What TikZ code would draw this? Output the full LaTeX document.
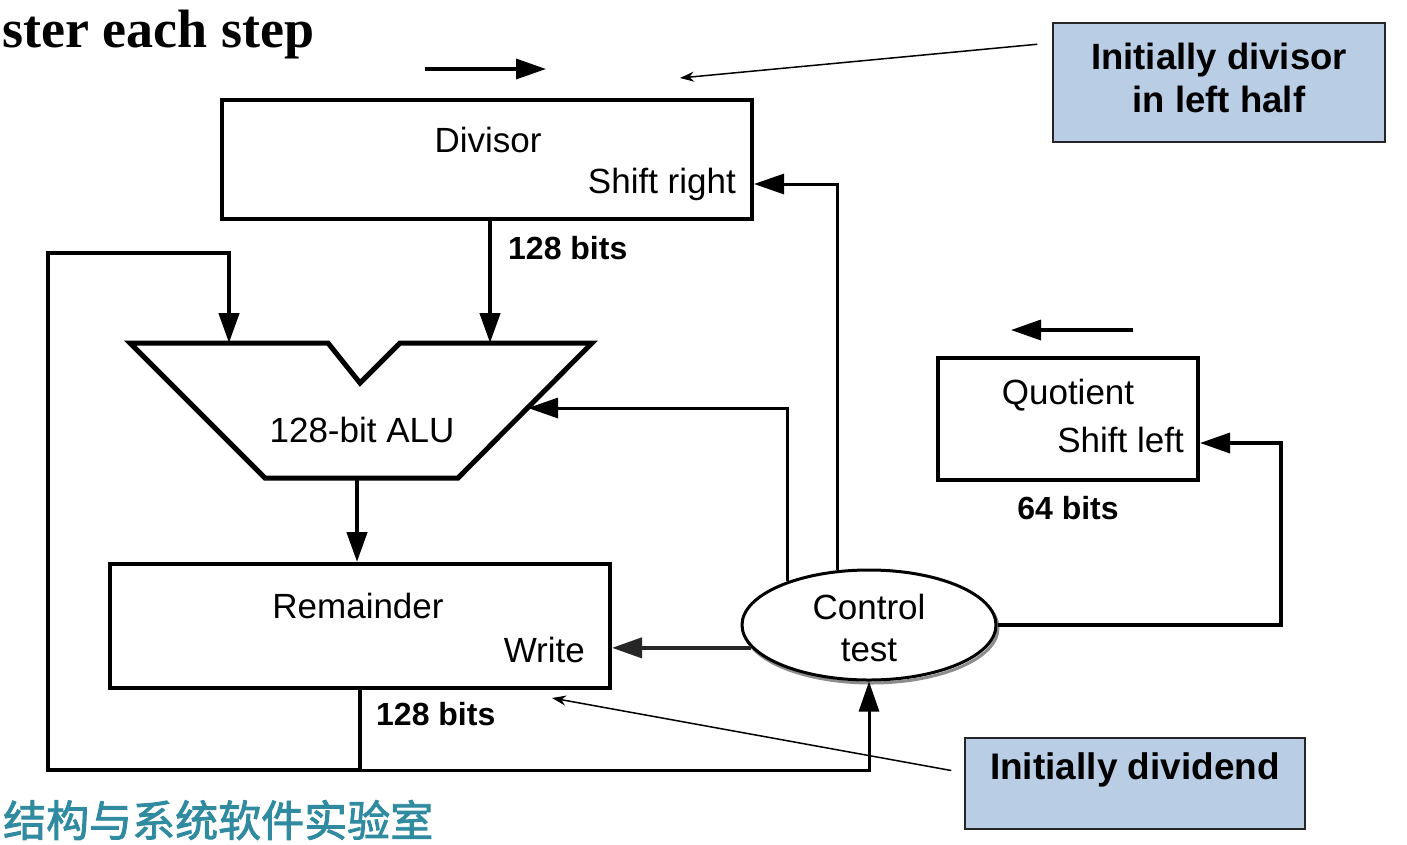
\documentclass[tikz,border=0pt]{standalone}
\usepackage{fontspec}
\setmainfont{Liberation Sans}
\newfontfamily\titlefont{Liberation Serif}
\newfontfamily\cjkfont[FakeBold=2]{Noto Sans CJK SC}
\usetikzlibrary{arrows.meta,shapes.geometric,calc}
\definecolor{annblue}{RGB}{185,205,228}
\definecolor{labteal}{RGB}{48,138,160}
\tikzset{
  reg/.style={draw=black,line width=4pt,inner sep=0pt},
  lbl/.style={font=\fontsize{35}{40}\selectfont,inner sep=0pt},
  bitlbl/.style={font=\bfseries\fontsize{32}{36}\selectfont,inner sep=0pt},
  bus/.style={line width=4.5pt},
  ctl/.style={line width=3pt},
  tip/.style={-{Triangle[length=30pt,width=20pt]}},
  lead/.style={line width=1.5pt,-{Stealth[length=14pt,width=10pt]}},
  ann/.style={draw=black!85,line width=1.5pt,fill=annblue,inner sep=0pt},
  anntext/.style={font=\bfseries\fontsize{36.5}{43}\selectfont,align=center,inner sep=0pt}
}
\begin{document}
\begin{tikzpicture}[x=1pt,y=-1pt]
\useasboundingbox (0,0) rectangle (1407,844);

% title and footer
\node[anchor=base west,inner sep=0pt,font=\titlefont\bfseries\fontsize{54}{60}\selectfont] (title) at (2,47) {ster each step};
\node[anchor=west,inner sep=0pt,text=labteal,font=\cjkfont\fontsize{43}{43}\selectfont] (lab) at (3,820) {结构与系统软件实验室};

% Divisor
\node[reg,minimum width=530pt,minimum height=119pt] (div) at (487,159.5) {};
\node[lbl] (divt) at (488,140) {Divisor};
\node[lbl,anchor=east] (divsr) at (736,184) {Shift right};
\node[bitlbl,anchor=west] (divbits) at (508,248) {128 bits};

% shift-right arrow above divisor
\coordinate (srA) at (425,69);
\coordinate (srB) at (546,69);
\draw[bus,line width=3.5pt,tip] (srA) -- (srB);

% ALU
\coordinate (aluTL) at (130,343);
\coordinate (aluTR) at (592,343);
\coordinate (aluBL) at (265,478);
\coordinate (aluBR) at (458,478);
\coordinate (aluL) at (229,343);
\coordinate (aluR) at (490,343);
\coordinate (aluRin) at (528,408);
\coordinate (aluB) at (357,478);
\draw[line width=5pt,line join=miter] (aluTL) -- (328,343) -- (360,383) -- (400,343) -- (aluTR) -- (aluBR) -- (aluBL) -- cycle;
\node[lbl] (alut) at (362,430) {128-bit ALU};

% Remainder
\node[reg,minimum width=500pt,minimum height=124pt] (rem) at (360,626) {};
\node[lbl] (remt) at (358,606) {Remainder};
\node[lbl,anchor=east] (remw) at (585,650) {Write};
\node[bitlbl,anchor=west] (rembits) at (376,714) {128 bits};

% Control
\draw[black!45,line width=3pt] (871,628) ellipse [x radius=127pt,y radius=55pt];
\node[draw,fill=white,ellipse,line width=3pt,minimum width=254pt,minimum height=110pt,inner sep=0pt] (ctrl) at (869,625) {};
\node[lbl] (ctrlt1) at (869,607) {Control};
\node[lbl] (ctrlt2) at (869,650) {test};

% Quotient
\node[reg,minimum width=260pt,minimum height=122pt] (q) at (1068,419) {};
\node[lbl] (qt) at (1068,395) {Quotient};
\node[lbl,anchor=east] (qsl) at (1184,440) {Shift left};
\node[bitlbl] (qbits) at (1068,508) {64 bits};

% shift-left arrow above quotient
\coordinate (slA) at (1133,330);
\coordinate (slB) at (1011,330);
\draw[bus,line width=3.5pt,tip] (slA) -- (slB);

% data paths
\draw[bus,tip] (div.south -| aluR) -- (aluR);
\draw[bus,tip] (aluB) -- (rem.north -| aluB);
\coordinate (loop) at (360,770);
\draw[bus,tip] (rem.south -| loop) -- (loop) -| (48,253) -| (aluL);
\draw[ctl,tip] (loop) -| (ctrl.south);

% control paths
\draw[bus,line width=4pt,black!85,tip] (ctrl.191) -- (rem.east |- ctrl.191);
\draw[ctl,tip] (ctrl.152) |- (aluRin);
\draw[ctl,tip] (ctrl.120) |- (div.east |- divsr);
\draw[ctl,line width=3.5pt,tip] (ctrl.east) -| (1281,443) -- (q.east |- 0,443);

% annotations
\node[ann,minimum width=332pt,minimum height=119pt] (annDiv) at (1219,82.5) {};
\node[anntext] (annDivT) at (1219,78) {Initially divisor\\in left half};
\coordinate (tipDiv) at (680,78);
\draw[lead] ($(annDiv.north west)+(-15,22)$) -- (tipDiv);

\node[ann,minimum width=340pt,minimum height=91pt] (annDvd) at (1135,783.5) {};
\node[anntext,font=\bfseries\fontsize{37}{43}\selectfont] (annDvdT) at (1135,770) {Initially dividend};
\coordinate (tipDvd) at (552,698);
\draw[lead] ($(annDvd.west)+(-13,-13)$) -- (tipDvd);
\end{tikzpicture}
\end{document}
